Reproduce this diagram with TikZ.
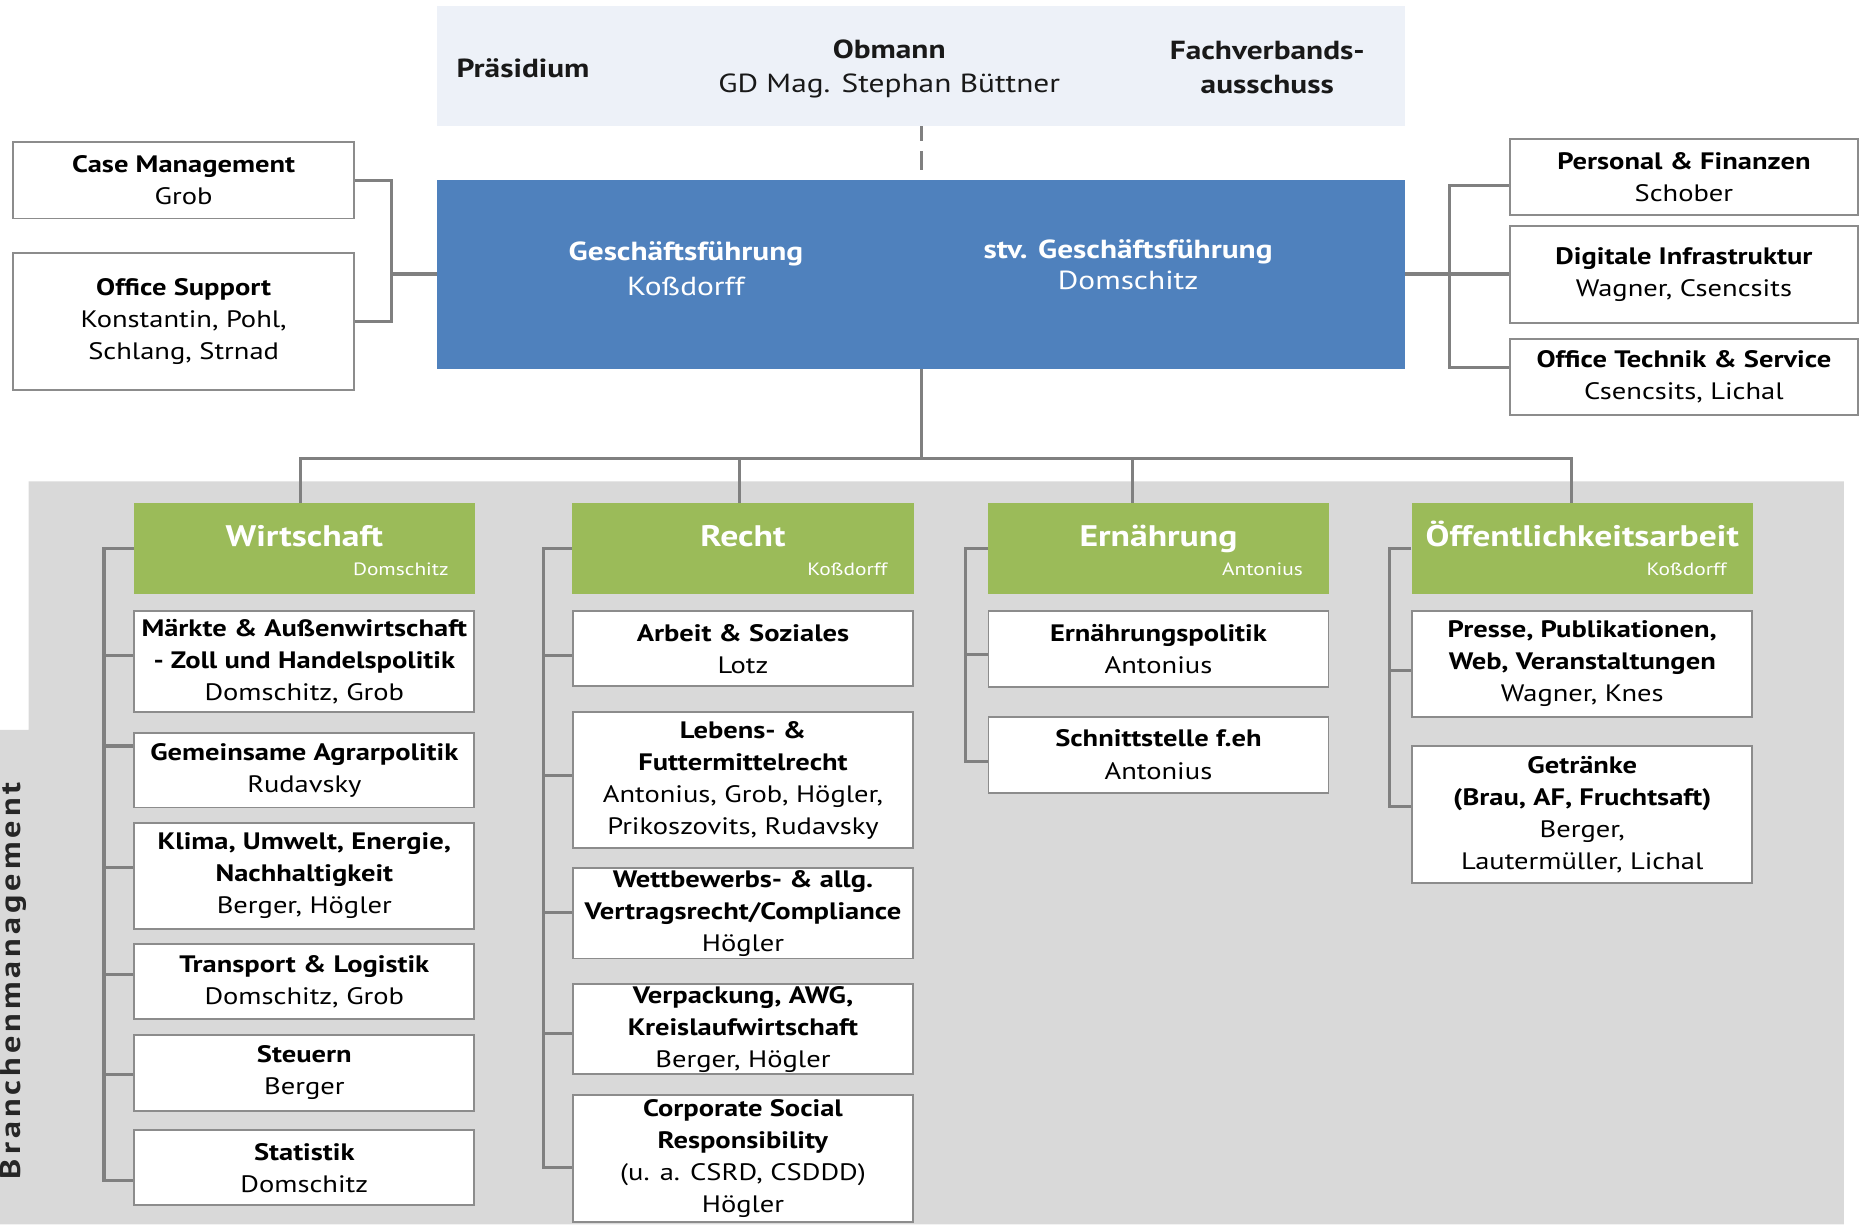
\documentclass[tikz,border=0pt]{standalone}
\usepackage{fontspec}
\setmainfont{PT Sans}[FakeStretch=1.2]
\newfontfamily\spacedfont[FakeStretch=1.2, LetterSpace=14]{PT Sans}
\usetikzlibrary{calc}
\definecolor{lineGray}{HTML}{808080}
\definecolor{bdGray}{HTML}{8C8C8C}
\definecolor{bgGray}{HTML}{D9D9D9}
\definecolor{topFill}{HTML}{EDF1F8}
\definecolor{gfBlue}{HTML}{4F81BD}
\definecolor{hdGreen}{HTML}{9BBB59}
\definecolor{labelGray}{HTML}{262626}
\begin{document}
\begin{tikzpicture}[x=1pt,y=1pt,
  box/.style={draw=bdGray, line width=1.6pt, fill=white, inner sep=0pt, align=center, anchor=north, font=\fontsize{20}{27}\selectfont},
  colbox/.style={box, minimum width=286pt},
  conn/.style={draw=lineGray, line width=2.6pt},
  hdr/.style={fill=hdGreen, minimum width=287pt, minimum height=76pt, inner sep=0pt},
  htitle/.style={text=white, font=\fontsize{25}{30}\selectfont\bfseries, anchor=base, inner sep=0pt},
  hsub/.style={text=white, font=\fontsize{15}{18}\selectfont, anchor=base east, inner sep=0pt},
  toptext/.style={align=center, font=\fontsize{22}{29}\selectfont, text=black!90},
  gftext/.style={align=center, text=white, font=\fontsize{22}{30}\selectfont}]
\useasboundingbox (0,0) rectangle (1568,-1030);
% gray background
\fill[bgGray] (24,-405) -- (1551,-405) -- (1551,-1030) -- (0,-1030) -- (0,-614) -- (24,-614) -- cycle;
\node[rotate=90, anchor=base, text=labelGray, font=\fontsize{24}{28}\selectfont\spacedfont\bfseries] (bm) at (17,-825) {Branchenmanagement};

% top box
\node[fill=topFill, minimum width=814pt, minimum height=101pt, inner sep=0pt] (top) at (775,-55.5) {};
\node[toptext, font=\fontsize{22}{29}\selectfont\bfseries] (pr) at (440,-57) {Präsidium};
\node[toptext] (ob) at (748,-58) {\textbf{Obmann}\\GD Mag. Stephan Büttner};
\node[toptext, font=\fontsize{22}{29}\selectfont\bfseries] (fa) at (1066,-57) {Fachverbands-\\ausschuss};

% Geschaeftsfuehrung
\node[fill=gfBlue, minimum width=814pt, minimum height=159pt, inner sep=0pt] (gf) at (775,-230.5) {};
\node[gftext] (gft) at (577,-226) {\textbf{Geschäftsführung}\\Koßdorff};
\node[gftext, font=\fontsize{22}{26}\selectfont] (sgf) at (949,-223) {\textbf{stv. Geschäftsführung}\\Domschitz};
\draw[lineGray, line width=2.6pt, dash pattern=on 12pt off 9pt on 16pt off 8pt] (top.south) -- (gf.north);

% left boxes
\node[box, minimum width=287pt, minimum height=64pt] (cm) at (154.5,-119) {\textbf{Case Management}\\Grob};
\node[box, minimum width=287pt, minimum height=115pt] (os) at (154.5,-212) {\textbf{Office Support}\\Konstantin, Pohl,\\Schlang, Strnad};
\coordinate (lsp) at (329.5,0);
\draw[conn] (cm.east) -- (cm.east -| lsp) |- (os.east);
\draw[conn] (gf.west) -- (gf.west -| lsp);

% right boxes
\node[box, minimum width=293pt, minimum height=64pt] (pf) at (1416.5,-116) {\textbf{Personal \& Finanzen}\\Schober};
\node[box, minimum width=293pt, minimum height=82pt] (di) at (1416.5,-189) {\textbf{Digitale Infrastruktur}\\Wagner, Csencsits};
\node[box, minimum width=293pt, minimum height=64pt] (ot) at (1416.5,-284) {\textbf{Office Technik \& Service}\\Csencsits, Lichal};
\coordinate (rsp) at (1219.5,0);
\draw[conn] (pf.west |- 0,-156) -- (rsp |- 0,-156) -- (rsp |- 0,-309.5) -- (ot.west |- 0,-309.5);
\draw[conn] (gf.east) -- (gf.east -| di.west);

% headers
\node[hdr] (wh) at (256,-461.5) {};
\node[htitle] at ([yshift=1.5pt]wh.center) {Wirtschaft};
\node[hsub] at ([xshift=-22pt,yshift=-23pt]wh.east) {Domschitz};
\node[hdr] (rh) at (625,-461.5) {};
\node[htitle] at ([yshift=1.5pt]rh.center) {Recht};
\node[hsub] at ([xshift=-22pt,yshift=-23pt]rh.east) {Koßdorff};
\node[hdr] (eh) at (974.5,-461.5) {};
\node[htitle] at ([yshift=1.5pt]eh.center) {Ernährung};
\node[hsub] at ([xshift=-22pt,yshift=-23pt]eh.east) {Antonius};
\node[hdr] (oh) at (1331,-461.5) {};
\node[htitle] at ([yshift=1.5pt]oh.center) {Öffentlichkeitsarbeit};
\node[hsub] at ([xshift=-22pt,yshift=-23pt]oh.east) {Koßdorff};

% tree from GF
\coordinate (bar) at (0,-386);
\draw[conn] (gf.south) -- (gf.south |- bar);
\draw[conn] ([xshift=-3pt]wh.north) -- ([xshift=-3pt]wh.north |- bar) -- ([xshift=-9pt]oh.north |- bar) -- ([xshift=-9pt]oh.north);
\draw[conn] ([xshift=-3pt]rh.north) -- ([xshift=-3pt]rh.north |- bar);
\draw[conn] ([xshift=-22pt]eh.north) -- ([xshift=-22pt]eh.north |- bar);

% Wirtschaft column
\node[colbox, minimum height=85pt] (w1) at (256,-513) {\textbf{Märkte \& Außenwirtschaft}\\\textbf{- Zoll und Handelspolitik}\\Domschitz, Grob};
\node[colbox, minimum height=63pt] (w2) at (256,-615.5) {\textbf{Gemeinsame Agrarpolitik}\\Rudavsky};
\node[colbox, minimum height=89pt] (w3) at (256,-691.5) {\textbf{Klima, Umwelt, Energie,}\\\textbf{Nachhaltigkeit}\\Berger, Högler};
\node[colbox, minimum height=63pt] (w4) at (256,-793.5) {\textbf{Transport \& Logistik}\\Domschitz, Grob};
\node[colbox, minimum height=64pt] (w5) at (256,-869.5) {\textbf{Steuern}\\Berger};
\node[colbox, minimum height=63pt] (w6) at (256,-950) {\textbf{Statistik}\\Domschitz};
\coordinate (wsp) at (87.5,0);
\draw[conn] (wh.west) -- (wh.west -| wsp) -- (wsp |- 0,-993) -- (w6.west |- 0,-993);
\foreach \yy/\bb in {551.6/w1,627.5/w2,729.4/w3,820/w4,904/w5}
  \draw[conn] (wsp |- 0,-\yy) -- (\bb.west |- 0,-\yy);

% Recht column
\node[colbox, minimum height=63pt] (r1) at (625,-513.5) {\textbf{Arbeit \& Soziales}\\Lotz};
\node[colbox, minimum height=114pt] (r2) at (625,-598.5) {\textbf{Lebens- \&}\\\textbf{Futtermittelrecht}\\Antonius, Grob, Högler,\\Prikoszovits, Rudavsky};
\node[colbox, minimum height=76pt] (r3) at (625,-729.5) {\textbf{Wettbewerbs- \& allg.}\\\textbf{Vertragsrecht/Compliance}\\Högler};
\node[colbox, minimum height=76pt] (r4) at (625,-827) {\textbf{Verpackung, AWG,}\\\textbf{Kreislaufwirtschaft}\\Berger, Högler};
\node[colbox, minimum height=107pt] (r5) at (625,-920.5) {\textbf{Corporate Social}\\\textbf{Responsibility}\\(u. a. CSRD, CSDDD)\\Högler};
\coordinate (rsq) at (457,0);
\draw[conn] (rh.west) -- (rh.west -| rsq) -- (rsq |- 0,-982) -- (r5.west |- 0,-982);
\foreach \yy/\bb in {551.6/r1,652.3/r2,767.3/r3,869.2/r4}
  \draw[conn] (rsq |- 0,-\yy) -- (\bb.west |- 0,-\yy);

% Ernaehrung column
\node[colbox, minimum height=64pt] (e1) at (974.5,-513) {\textbf{Ernährungspolitik}\\Antonius};
\node[colbox, minimum height=64pt] (e2) at (974.5,-602) {\textbf{Schnittstelle f.eh}\\Antonius};
\coordinate (esp) at (812.5,0);
\draw[conn] (eh.west) -- (eh.west -| esp) -- (esp |- 0,-640.6) -- (e2.west |- 0,-640.6);
\draw[conn] (esp |- 0,-550.9) -- (e1.west |- 0,-550.9);

% Oeffentlichkeitsarbeit column
\node[colbox, minimum height=89pt] (o1) at (1331,-513) {\textbf{Presse, Publikationen,}\\\textbf{Web, Veranstaltungen}\\Wagner, Knes};
\node[colbox, minimum height=115pt] (o2) at (1331,-627) {\textbf{Getränke}\\\textbf{(Brau, AF, Fruchtsaft)}\\Berger,\\Lautermüller, Lichal};
\coordinate (osp) at (1168.5,0);
\draw[conn] (oh.west) -- (oh.west -| osp) -- (osp |- 0,-678.4) -- (o2.west |- 0,-678.4);
\draw[conn] (osp |- 0,-564.3) -- (o1.west |- 0,-564.3);
\end{tikzpicture}
\end{document}
